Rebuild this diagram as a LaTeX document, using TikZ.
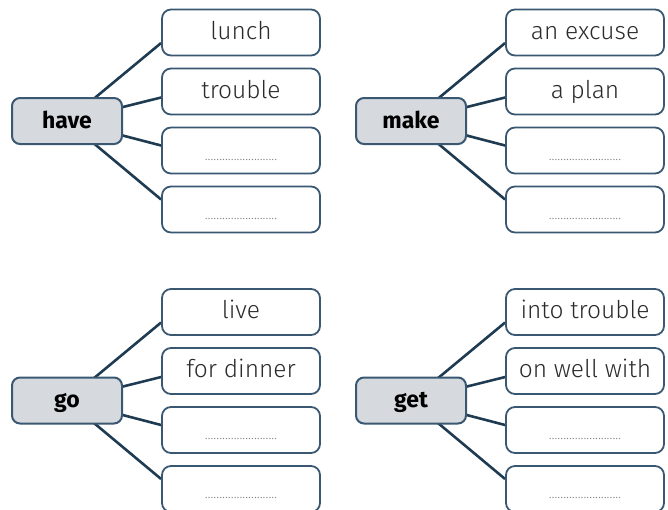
\documentclass[tikz,border=0pt]{standalone}
\usepackage{fontspec}
\setmainfont{Fira Sans}[UprightFont=* Light, BoldFont=* Bold]
\usetikzlibrary{calc, backgrounds}
\definecolor{boxline}{HTML}{3B5873}
\definecolor{linkline}{HTML}{1F3B52}
\definecolor{verbfill}{HTML}{D6DADE}
\definecolor{wordtext}{HTML}{2B2B2B}
\newcommand\blank{\raisebox{-3pt}{\fontsize{14}{14}\selectfont\color{gray}.........................}}

% one verb with its four answer boxes
\newcommand\wordgroup[7]{%
\node[verb] (#1) at #2 {#3};
\node[answer] (#1-1) at ($(#1)+(174,-88.5)$) {#4};
\node[answer] (#1-2) at ($(#1)+(174,-29.5)$) {#5};
\node[answer] (#1-3) at ($(#1)+(174,29.5)$) {#6};
\node[answer] (#1-4) at ($(#1)+(174,88.5)$) {#7};
\begin{scope}[on background layer]
\draw [link] (#1.center) -- ($(#1-1.west)+(0,10.5)$);
\draw [link] (#1.center) -- ($(#1-2.west)+(0,6)$);
\draw [link] (#1.center) -- ($(#1-3.west)+(0,-5)$);
\draw [link] (#1.center) -- ($(#1-4.west)+(0,-10)$);
\end{scope}}

\begin{document}
\begin{tikzpicture}[x=1pt, y=-1pt,
  verb/.style = {draw=boxline, line width=2pt, fill=verbfill, rounded corners=8pt,
    minimum width=110pt, minimum height=46pt, inner sep=0pt,
    text height=16pt, text depth=2pt, font=\fontsize{23}{27}\selectfont\bfseries},
  answer/.style = {draw=boxline, line width=1.8pt, fill=white, rounded corners=9pt,
    minimum width=158pt, minimum height=46pt, inner sep=0pt, text=wordtext,
    text height=17pt, text depth=4pt, font=\fontsize{24.5}{28}\selectfont},
  link/.style = {draw=linkline, line width=2.6pt}]
\useasboundingbox (0,0) rectangle (668,509);
\wordgroup{have}{(67,121)}{have}{lunch}{trouble}{\blank}{\blank}
\wordgroup{make}{(411,121)}{make}{an excuse}{a plan}{\blank}{\blank}
\wordgroup{go}{(67,400.5)}{go}{live}{for dinner}{\blank}{\blank}
\wordgroup{get}{(411,400.5)}{get}{into trouble}{on well with}{\blank}{\blank}
\end{tikzpicture}
\end{document}
